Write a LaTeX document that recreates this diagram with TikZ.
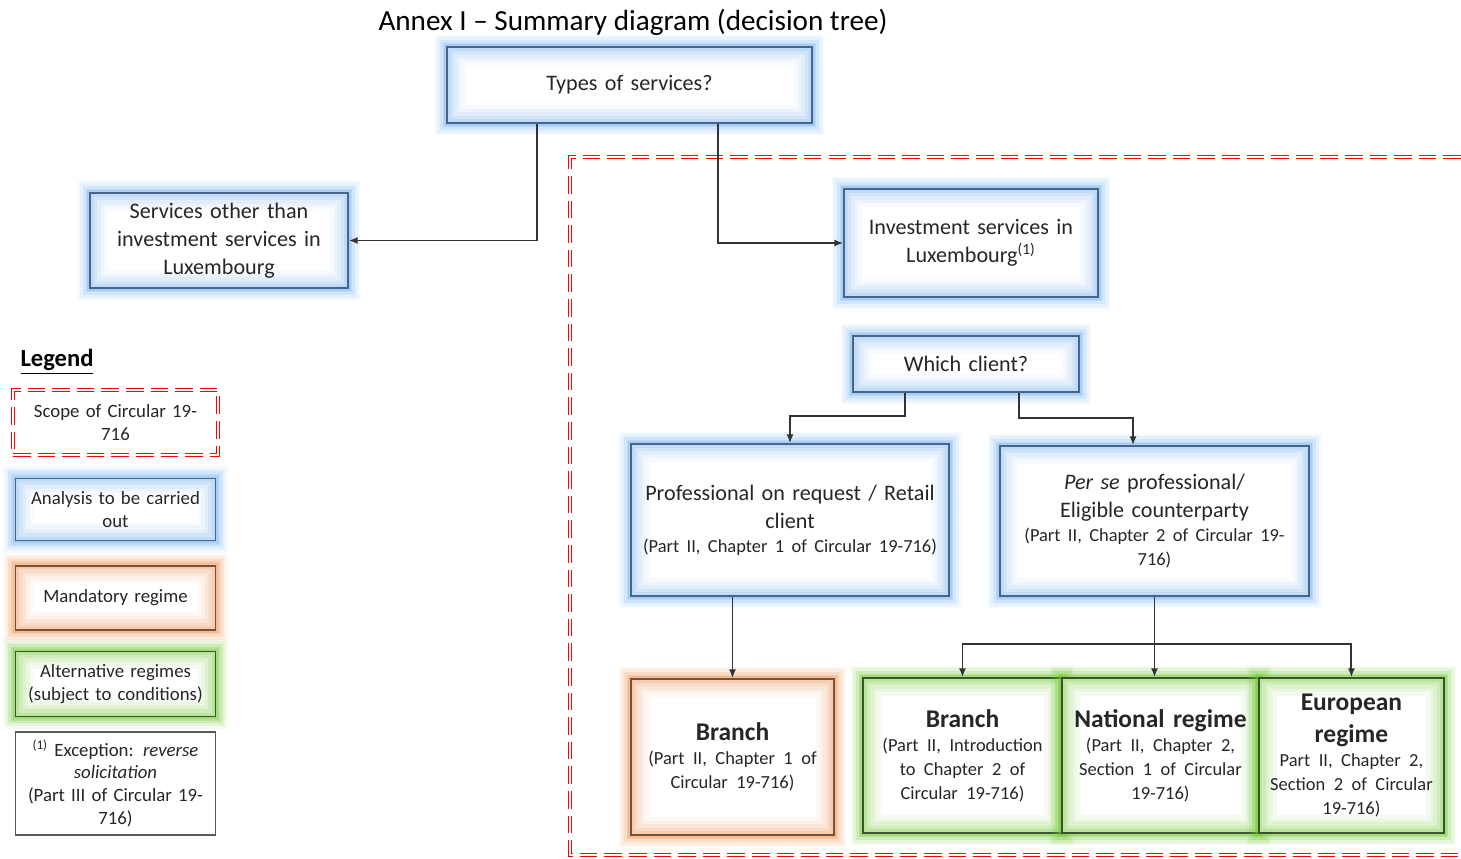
\documentclass[tikz,border=0pt]{standalone}
\usepackage{fontspec}
\setmainfont{Carlito}
\usetikzlibrary{positioning,arrows.meta}
\usepackage{color}

\definecolor{glowblue}{RGB}{120,182,240}
\definecolor{edgeblue}{RGB}{72,100,140}
\definecolor{gloworange}{RGB}{240,150,90}
\definecolor{edgeorange}{RGB}{120,82,55}
\definecolor{glowgreen}{RGB}{110,200,50}
\definecolor{edgegreen}{RGB}{60,82,42}

\newcommand{\txtmain}{\fontsize{12.6}{15.8}\selectfont}
\newcommand{\txtsmall}{\fontsize{10.5}{13.6}\selectfont}
\newcommand{\txthead}{\fontsize{14.5}{18}\selectfont\bfseries}
\newcommand{\txtleg}{\fontsize{10.7}{13}\selectfont}

\begin{document}
\begin{tikzpicture}[x=0.02cm,y=-0.02cm,
glow/.style 2 args={draw=#2,line width=0.9pt,fill=white,align=center,text=black!85,inner sep=2pt,
    preaction={draw=#1,line width=14pt,opacity=0.08},
    preaction={draw=#1,line width=11pt,opacity=0.12},
    preaction={draw=#1,line width=8pt,opacity=0.18},
    preaction={draw=#1,line width=5pt,opacity=0.25},
    preaction={draw=#1,line width=3pt,opacity=0.3},
    path picture={
      \foreach \w/\o in {20/0.06,16/0.08,12/0.1,8/0.14,4/0.2}
        \draw[#1,line width=\w pt,opacity=\o] (path picture bounding box.south west) rectangle (path picture bounding box.north east);}},
bluebox/.style={glow={glowblue}{edgeblue}},
orangebox/.style={glow={gloworange}{edgeorange}},
greenbox/.style={glow={glowgreen}{edgegreen}},
scopeline/.style={draw=red,line width=0.6pt,double=white,double distance=1.3pt,
    dash pattern=on 10pt off 4pt},
arrow/.style={draw=black!80,line width=1.1pt,-{Latex[length=5pt,width=4pt]}}]
\useasboundingbox (0,0) rectangle (1461,859);

% scope of the circular
\draw[scopeline] (1461,157) -| (570,855) -- (1461,855);

\node (title) at (633,22) {\fontsize{16.6}{19}\selectfont Annex I -- Summary diagram (decision tree)};

% decision tree
\node (types) [bluebox,font=\txtmain,minimum width=7.3cm,minimum height=1.52cm,text width=7cm]
    at (629.5,85) {Types of services?};
\node (other) [bluebox,font=\txtmain,minimum width=5.16cm,minimum height=1.9cm,text width=4.95cm]
    at (219,240.5) {Services other than\\investment services in\\Luxembourg};
\node (invest) [bluebox,font=\txtmain,minimum width=5.08cm,minimum height=2.16cm,text width=4.85cm]
    at (971,243) {Investment services in\\Luxembourg\textsuperscript{(1)}};
\node (which) [bluebox,font=\txtmain,minimum width=4.52cm,minimum height=1.12cm,text width=4.3cm]
    at (966,364) {Which client?};
\node (prof) [bluebox,font=\txtmain,minimum width=6.36cm,minimum height=3.04cm,text width=6.15cm]
    at (790,520) {Professional on request / Retail\\client\par
    {\txtsmall (Part II, Chapter 1 of Circular 19-716)\par}};
\node (perse) [bluebox,font=\txtmain,minimum width=6.18cm,minimum height=3cm,text width=5.95cm]
    at (1154.5,521) {\textit{Per se} professional/\\Eligible counterparty\par
    {\txtsmall (Part II, Chapter 2 of Circular 19-\\716)\par}};
\node (obranch) [orangebox,font=\txthead,minimum width=4.06cm,minimum height=3.12cm,text width=3.85cm]
    at (732.5,757) {Branch\par
    {\txtsmall\mdseries (Part II, Chapter 1 of\\Circular 19-716)\par}};
\node (gbranch) [greenbox,font=\txthead,minimum width=3.98cm,minimum height=3.1cm,text width=3.78cm]
    at (962.5,755.5) {Branch\par
    {\txtsmall\mdseries (Part II, Introduction\\to Chapter 2 of\\Circular 19-716)\par}};
\node (natreg) [greenbox,font=\txthead,minimum width=3.94cm,minimum height=3.1cm,text width=3.74cm,
    right=-0.9pt of gbranch] {National regime\par
    {\txtsmall\mdseries (Part II, Chapter 2,\\Section 1 of Circular\\19-716)\par}};
\node (eureg) [greenbox,font=\txthead,minimum width=3.7cm,minimum height=3.1cm,text width=3.5cm,
    right=-0.9pt of natreg] {European\\regime\par
    {\txtsmall\mdseries Part II, Chapter 2,\\Section 2 of Circular\\19-716)\par}};

% connectors
\draw[arrow] ([xshift=-1.85cm]types.south) |- (other.east);
\draw[arrow] ([xshift=1.77cm]types.south) |- (invest.west);
\draw[arrow] ([xshift=-1.22cm]which.south) -- ++(0,23) -| (prof.north);
\draw[arrow] ([xshift=1.06cm]which.south) -- ++(0,25) -| ([xshift=-0.43cm]perse.north);
\draw[arrow] (prof.south -| obranch.north) -- (obranch.north);
\draw[arrow] (perse.south) -- (perse.south |- natreg.north);
\path (perse.south) ++(0,47) coordinate (split);
\draw[arrow] (split) -| (gbranch.north);
\draw[arrow] (split) -| (eureg.north);

% legend
\node (legend) at (57,362) {\fontsize{14}{16}\selectfont\underline{\textbf{Legend}}};
\node (legscope) [scopeline,font=\txtleg,minimum width=4.1cm,minimum height=1.3cm,text width=3.9cm,
    inner sep=2pt,align=center,text=black!85] at (115.5,422.5) {Scope of Circular 19-\\716};
\node (leganal) [bluebox,font=\txtleg,minimum width=4cm,minimum height=1.24cm,text width=3.8cm,
    below=0.44cm of legscope] {Analysis to be carried\\out};
\node (legmand) [orangebox,font=\txtleg,minimum width=4cm,minimum height=1.28cm,text width=3.8cm,
    below=0.48cm of leganal] {Mandatory regime};
\node (legalt) [greenbox,font=\txtleg,minimum width=4cm,minimum height=1.3cm,text width=3.8cm,
    below=0.4cm of legmand] {Alternative regimes\\(subject to conditions)};
\node (legexc) [draw=black!65,line width=0.8pt,fill=white,align=center,text=black!85,font=\txtleg,
    inner sep=2pt,minimum width=4cm,minimum height=2.06cm,text width=3.8cm,
    below=0.28cm of legalt] {\textsuperscript{(1)} Exception: \textit{reverse}\\
    \textit{solicitation}\\(Part III of Circular 19-\\716)};
\end{tikzpicture}
\end{document}
